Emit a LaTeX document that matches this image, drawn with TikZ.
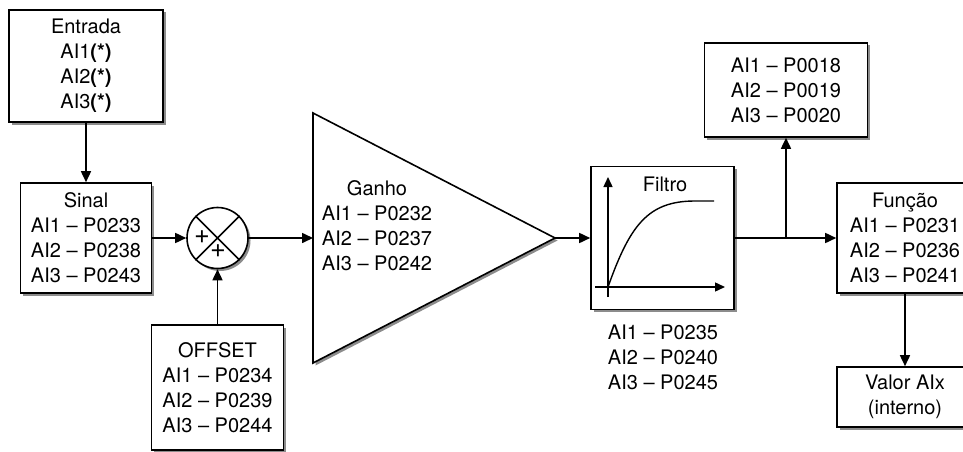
\documentclass[tikz,border=0pt]{standalone}
\usepackage{fontspec}
\setmainfont{TeX Gyre Heros}
\usetikzlibrary{shadows,arrows.meta}
\begin{document}
\begin{tikzpicture}[x=1pt,y=-1pt,
  shad/.style={drop shadow={shadow xshift=2.5pt,shadow yshift=-2.5pt,fill=black!45,opacity=1}},
  blk/.style={draw,line width=1.6pt,fill=white,shad,align=center,inner sep=0pt,font=\fontsize{20}{25}\selectfont},
  txt/.style={align=center,font=\fontsize{20}{25}\selectfont,inner sep=0pt},
  arr/.style={line width=1.6pt,-{Triangle[length=11pt,width=10pt]}},
  ln/.style={line width=1.6pt}]
\clip (0,0) rectangle (963,452);
\fill[white] (0,0) rectangle (963,452);
% boxes
\node[blk,minimum width=154pt,minimum height=112pt] (entrada) at (86,66) {Entrada\\AI1\textbf{(*)}\\AI2\textbf{(*)}\\AI3\textbf{(*)}};
\node[blk,minimum width=131pt,minimum height=110pt] (sinal) at (86,238) {Sinal\\AI1 -- P0233\\AI2 -- P0238\\AI3 -- P0243};
\node[blk,minimum width=132pt,minimum height=125pt] (offset) at (217.5,387.5) {OFFSET\\AI1 -- P0234\\AI2 -- P0239\\AI3 -- P0244};
\node[blk,minimum width=163pt,minimum height=94pt] (disp) at (786,90) {AI1 -- P0018\\AI2 -- P0019\\AI3 -- P0020};
\node[blk,minimum width=143pt,minimum height=143pt] (filt) at (662.5,238) {};
\node[blk,minimum width=136pt,minimum height=110pt] (funcao) at (905,238) {Função\\AI1 -- P0231\\AI2 -- P0236\\AI3 -- P0241};
\node[blk,minimum width=136pt,minimum height=60pt] (valor) at (905,397) {Valor AIx\\(interno)};
% summing junction
\node[draw,circle,minimum size=61pt,inner sep=0pt,line width=1.6pt,fill=white,shad] (sum) at (217.5,238) {};
\draw[ln] (sum.45) -- (sum.225) (sum.135) -- (sum.-45);
\node[font=\fontsize{27}{27}\selectfont,inner sep=0pt] (p1) at (202,237) {+};
\node[font=\fontsize{27}{27}\selectfont,inner sep=0pt] (p2) at (218,251) {+};
% gain triangle
\coordinate (gin) at (313,238);
\coordinate (gout) at (555,238);
\draw[line width=1.6pt,fill=white,shad] (313,113) -- (gout) -- (313,363) -- cycle;
\node[txt] (ganho) at (377,225.5) {Ganho\\AI1 -- P0232\\AI2 -- P0237\\AI3 -- P0242};
% filter graph
\node[txt] (filtro) at (665,184) {Filtro};
\coordinate (ax0) at (608,297);
\coordinate (ax1) at (608,177);
\coordinate (ay0) at (595,287);
\coordinate (ay1) at (725,287);
\draw[line width=1.4pt,-{Triangle[length=10pt,width=9pt]}] (ax0) -- (ax1);
\draw[line width=1.4pt,-{Triangle[length=10pt,width=9pt]}] (ay0) -- (ay1);
\draw[line width=1.4pt] (608,287) .. controls (630,225) and (648,201) .. (695,201) -- (714,201);
\node[txt] (filtpar) at (663,357) {AI1 -- P0235\\AI2 -- P0240\\AI3 -- P0245};
% connectors
\coordinate (jn) at (786,238);
\draw[arr] (entrada) -- (sinal);
\draw[arr] (sinal.east) -- (sum.west);
\draw[arr] (offset) -- (sum);
\draw[arr] (sum.east) -- (gin);
\draw[arr] (gout) -- (filt.west);
\draw[ln] (filt.east) -- (jn);
\draw[arr] (jn) -- (funcao.west);
\draw[arr] (jn) -- (disp.south);
\draw[arr] (funcao) -- (valor);
\end{tikzpicture}
\end{document}
